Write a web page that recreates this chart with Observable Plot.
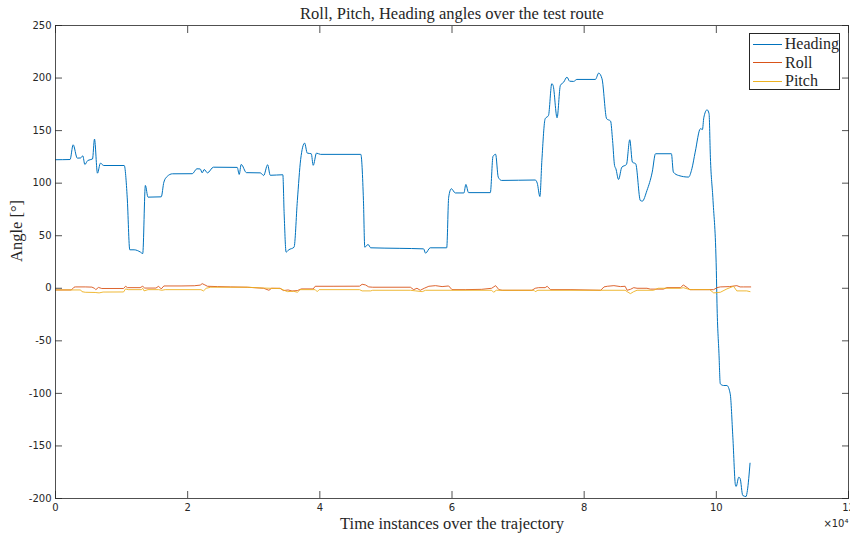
<!DOCTYPE html>
<html>
<head>
<meta charset="utf-8">
<script src="https://cdn.jsdelivr.net/npm/d3@7"></script>
<script src="https://cdn.jsdelivr.net/npm/@observablehq/plot@0.6"></script>
<style>
  body { margin: 0; background: #fff; }
  #chart { position: relative; width: 850px; height: 538px; }
  .legend {
    position: absolute; left: 749px; top: 33px; width: 91px; height: 57px;
    box-sizing: border-box; border: 1px solid #262626; background: #fff;
    font-family: "Liberation Serif", serif; font-size: 16px; color: #262626;
    padding-top: 1px;
  }
  .legend .row { display: flex; align-items: center; height: 18.5px; }
  .legend .swatch { width: 29px; height: 0; border-top: 1.5px solid; margin: 0 3px 0 3px; }
</style>
</head>
<body>
<div id="chart"></div>
<script>
// Time axis values are in units of 10^4 samples.
const seriesNames = ["Heading", "Roll", "Pitch"];
const seriesColors = ["#0072BD", "#D95319", "#EDB120"];
const xTicks = [0, 2, 4, 6, 8, 10, 12];
const yTicks = [-200, -150, -100, -50, 0, 50, 100, 150, 200, 250];

const heading = [
  [0, 122.3], [0.22, 122.5], [0.267, 136.5], [0.33, 123.8], [0.38, 124], [0.413, 126],
  [0.444, 117.8], [0.489, 121.6], [0.56, 123], [0.59, 141.9], [0.635, 109.5], [0.68, 119],
  [0.73, 116.8], [1.04, 116.8], [1.085, 86.7], [1.124, 36.6], [1.19, 36.6], [1.286, 34.4],
  [1.32, 33], [1.36, 97.8], [1.40, 86.7], [1.60, 87], [1.64, 101], [1.69, 106.4],
  [1.77, 108.9], [2.07, 109], [2.14, 113.7], [2.19, 113.5], [2.22, 109.8], [2.25, 113],
  [2.30, 109.8], [2.39, 115.2], [2.75, 115], [2.78, 108.3], [2.81, 117.8], [2.89, 110],
  [3.10, 109.8], [3.15, 107.3], [3.21, 117.5], [3.25, 107.5], [3.44, 108], [3.46, 70.9],
  [3.49, 34.4], [3.53, 36.6], [3.61, 39.1], [3.66, 83.5], [3.71, 122.6], [3.77, 138.1],
  [3.81, 128.6], [3.87, 128], [3.90, 117], [3.95, 128.6], [4.01, 127.4], [4.62, 127.4],
  [4.66, 83.5], [4.68, 39.1], [4.73, 41.7], [4.77, 38.5], [5.20, 38], [5.57, 37.5],
  [5.60, 33.4], [5.67, 38.5], [5.92, 38.5], [5.95, 86.7], [5.99, 94.7], [6.05, 90.7],
  [6.18, 90.7], [6.21, 98.8], [6.25, 91], [6.58, 91], [6.62, 125.4], [6.66, 127.5],
  [6.70, 105.7], [6.75, 102.6], [7.26, 103], [7.29, 100], [7.33, 87.3], [7.36, 121.6],
  [7.41, 161.3], [7.46, 164.4], [7.51, 194.6], [7.53, 193], [7.59, 162.2], [7.64, 193],
  [7.69, 196.1], [7.74, 200.9], [7.78, 197], [7.84, 196.8], [7.89, 198.7], [8.17, 198.7],
  [8.22, 204.7], [8.27, 199.3], [8.34, 161.3], [8.40, 159], [8.43, 140.6], [8.46, 116.8],
  [8.48, 113.7], [8.52, 103.5], [8.57, 115.2], [8.64, 117.8], [8.69, 141.3], [8.73, 120],
  [8.78, 118.4], [8.85, 83.5], [8.88, 82.9], [8.95, 93], [9.03, 110.5], [9.08, 128],
  [9.32, 128], [9.35, 110.5], [9.43, 107.3], [9.58, 105.8], [9.63, 113.7], [9.68, 129.5],
  [9.76, 151.8], [9.79, 151], [9.81, 162.2], [9.86, 169.8], [9.89, 166], [9.91, 124.7],
  [9.95, 83.5], [10.0, 16.9], [10.01, -14.7], [10.04, -62.3], [10.06, -90.9], [10.11, -92.5],
  [10.16, -92.5], [10.21, -100.4], [10.25, -141.7], [10.29, -187.6], [10.30, -188.5],
  [10.34, -179.7], [10.36, -181], [10.40, -197.1], [10.45, -198.1], [10.47, -192.4], [10.51, -166.4]
];

const roll = [
  [0, -1.6], [0.24, -1.6], [0.28, 1.0], [0.30, 1.3], [0.45, 1.3], [0.55, 1.1], [0.59, 0],
  [0.61, -1.3], [0.65, 0.8], [0.70, -0.2], [1.03, -0.2], [1.06, 1.9], [1.09, 0.6], [1.28, 0.6],
  [1.32, 1.9], [1.35, 0.2], [1.52, 0.2], [1.56, 1.9], [1.60, -0.6], [1.64, 2.2], [1.90, 2.2],
  [2.10, 2.4], [2.19, 3.0], [2.22, 4.4], [2.26, 3.2], [2.30, 1.9], [2.45, 1.6], [2.65, 1.3],
  [2.90, 1.0], [3.15, 0], [3.23, -1.9], [3.27, 0], [3.40, 0], [3.45, -2.2], [3.52, -1.6],
  [3.58, -2.6], [3.66, -2.2], [3.72, -0.6], [3.90, -0.6], [3.93, 1.9], [4.20, 1.9], [4.60, 2.0],
  [4.64, 3.8], [4.69, 3.2], [4.74, 1.3], [4.80, 1.0], [5.37, 1.0], [5.42, -1.3], [5.47, 0],
  [5.52, -1.9], [5.58, 0], [5.65, 1.9], [5.75, 2.5], [5.85, 1.6], [5.95, 2.2], [6.00, -1.3],
  [6.20, -1.3], [6.45, -1.0], [6.60, 0], [6.66, 2.5], [6.71, -1.3], [6.76, -1.9], [7.00, -1.9],
  [7.21, -1.9], [7.26, 0], [7.31, 0.6], [7.41, 0.6], [7.44, 1.9], [7.49, -1.3], [7.80, -1.3],
  [8.25, -1.9], [8.30, 1.3], [8.35, 1.9], [8.45, 2.5], [8.55, 1.6], [8.62, 1.9], [8.65, -1.9],
  [8.70, -1.0], [8.75, 0.6], [8.80, 0], [8.95, 0], [9.00, -0.8], [9.20, -0.8], [9.25, 0.6],
  [9.46, 0.6], [9.50, 3.2], [9.56, 0.6], [9.60, -1.3], [9.66, -1.3], [9.96, -1.3], [10.01, 0.6],
  [10.06, 1.3], [10.20, 1.6], [10.31, 2.5], [10.36, 1.3], [10.41, 1.3], [10.52, 1.3]
];

const pitch = [
  [0, -1.6], [0.38, -1.6], [0.40, -3.2], [0.45, -3.8], [0.60, -4.0], [0.66, -4.4], [0.72, -3.6],
  [1.03, -3.5], [1.06, -0.6], [1.10, -1.3], [1.30, -1.3], [1.32, 0], [1.34, -2.5], [1.40, -1.3],
  [1.56, -1.3], [1.61, -1.9], [1.66, -1.3], [2.20, -1.3], [2.24, -2.5], [2.28, 0], [2.35, 1.0],
  [2.90, 1.0], [3.15, 0.2], [3.40, -0.3], [3.51, -3.2], [3.60, -2.8], [3.66, -3.8], [3.70, -1.3],
  [3.93, -1.3], [3.96, -3.2], [3.99, -1.3], [4.60, -1.3], [4.64, -2.5], [4.77, -2.5], [4.80, -1.9],
  [5.37, -1.9], [5.45, -2.5], [5.55, -3.2], [5.60, -1.9], [6.60, -1.9], [6.63, -3.8], [6.67, -1.9],
  [7.24, -1.9], [7.26, -3.2], [7.30, -1.9], [8.62, -1.9], [8.65, -3.2], [8.70, -5.1], [8.75, -3.2],
  [8.80, -1.9], [9.05, -1.9], [9.12, 0], [9.46, 0], [9.50, 0.6], [9.60, -1.3], [9.90, -1.3],
  [9.96, -4.4], [10.06, -3.8], [10.16, -0.6], [10.26, 1.9], [10.31, -2.5], [10.46, -2.5], [10.51, -3.2]
];

const titleText = "Roll, Pitch, Heading angles over the test route";
const xLabelText = "Time instances over the trajectory";
const yLabelText = "Angle [°]";
const xExponentText = "×10⁴";

const toRows = (pairs) => pairs.map(([t, v]) => ({t, v}));
const ink = "#262626";
const serif = "'Liberation Serif', serif";
const plain = (d) => String(d); // hyphen-minus for negative ticks

const chart = Plot.plot({
  width: 850,
  height: 538,
  marginTop: 25,
  marginBottom: 40,
  marginLeft: 55,
  marginRight: 2,
  x: {domain: [0, 12]},
  y: {domain: [-200, 250]},
  style: {fontFamily: "'DejaVu Sans', sans-serif", fontSize: "10px", color: ink, background: "#fff", overflow: "visible"},
  marks: [
    Plot.line(toRows(heading), {x: "t", y: "v", stroke: seriesColors[0], strokeWidth: 1, curve: "monotone-x"}),
    Plot.line(toRows(roll), {x: "t", y: "v", stroke: seriesColors[1], strokeWidth: 0.9}),
    Plot.line(toRows(pitch), {x: "t", y: "v", stroke: seriesColors[2], strokeWidth: 0.9}),
    Plot.frame({stroke: ink, strokeWidth: 0.8}),
    Plot.axisX(xTicks, {anchor: "bottom", tickSize: -7, tickPadding: 12, tickFormat: plain, label: null, stroke: ink, strokeWidth: 0.8}),
    Plot.axisX(xTicks, {anchor: "top", tickSize: -7, tickFormat: () => "", label: null, stroke: ink, strokeWidth: 0.8}),
    Plot.axisY(yTicks, {anchor: "left", tickSize: -7, tickPadding: 11, tickFormat: plain, label: null, stroke: ink, strokeWidth: 0.8}),
    Plot.axisY(yTicks, {anchor: "right", tickSize: -7, tickFormat: () => "", label: null, stroke: ink, strokeWidth: 0.8}),
    Plot.text([titleText], {frameAnchor: "top", dy: -7, lineAnchor: "bottom", fontFamily: serif, fontSize: 16.5, fill: ink}),
    Plot.text([xLabelText], {frameAnchor: "bottom", dy: 30, lineAnchor: "bottom", fontFamily: serif, fontSize: 16.5, fill: ink}),
    Plot.text([yLabelText], {frameAnchor: "left", dx: -39, rotate: -90, fontFamily: serif, fontSize: 16.5, fill: ink}),
    Plot.text([xExponentText], {frameAnchor: "bottom-right", dy: 28, dx: 0, textAnchor: "end", lineAnchor: "bottom", fontSize: 10, fill: ink})
  ]
});

const holder = document.getElementById("chart");
holder.appendChild(chart);

// Legend box in the top-right corner of the axes
const legend = d3.select(holder).append("div").attr("class", "legend");
seriesNames.forEach((name, i) => {
  const row = legend.append("div").attr("class", "row");
  row.append("span").attr("class", "swatch").style("border-top-color", seriesColors[i]);
  row.append("span").text(name);
});
</script>
</body>
</html>
